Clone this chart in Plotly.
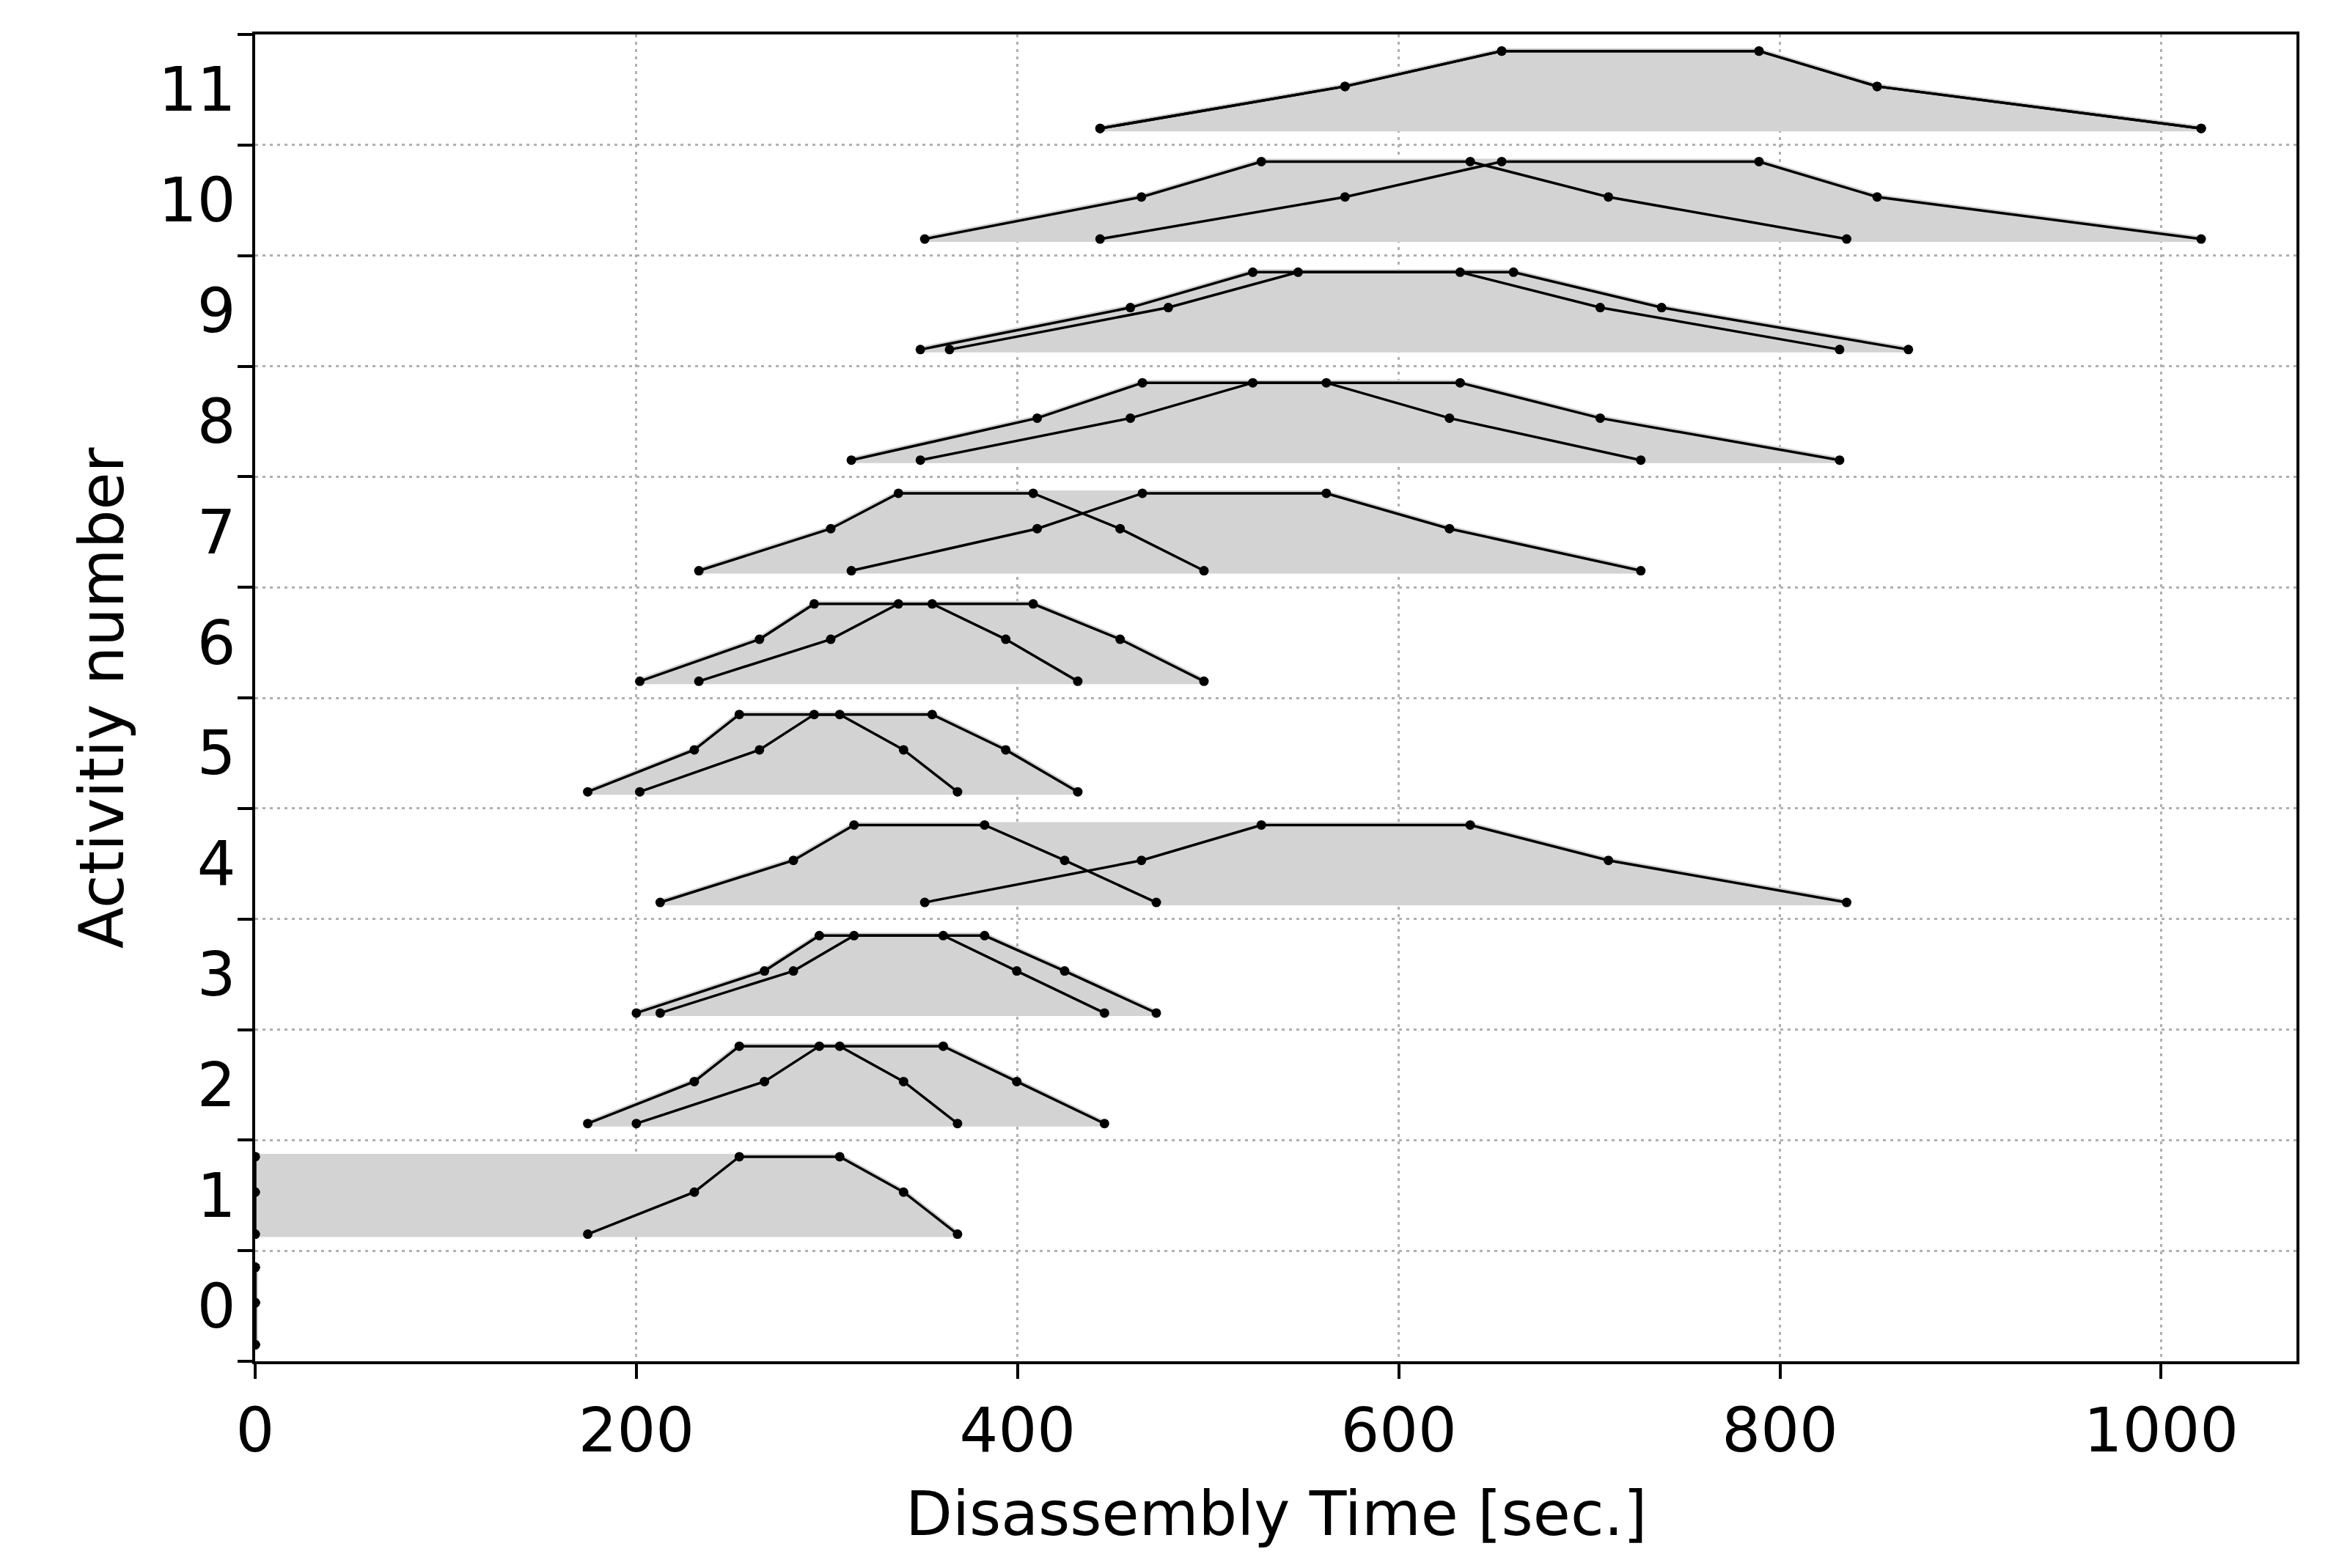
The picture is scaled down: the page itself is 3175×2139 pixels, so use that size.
import plotly.graph_objects as go

# Activities (rows) 0..11
activities = list(range(12))
tick_labels = [str(a) for a in activities]

# Fuzzy finish times (6-point trapezoids): left-bottom, left-mid, left-top, right-top, right-mid, right-bottom
fin_a  = [0, 174.5, 200.0, 212.5, 351.3, 201.8, 232.8, 312.8, 349.0, 364.3, 443.3, 443.3]
fin_am = [0, 230.4, 267.2, 282.4, 465.0, 264.6, 302.0, 410.3, 459.2, 479.1, 571.8, 571.8]
fin_b  = [0, 254.0, 296.0, 314.2, 527.9, 293.3, 337.5, 465.5, 523.4, 547.2, 654.0, 654.0]
fin_c  = [0, 306.7, 361.0, 382.7, 637.5, 355.2, 408.2, 562.0, 632.2, 660.2, 789.0, 789.0]
fin_cm = [0, 340.2, 399.6, 424.7, 710.0, 393.8, 453.8, 626.6, 705.7, 737.9, 851.0, 851.0]
fin_d  = [0, 368.5, 445.6, 472.8, 835.0, 431.6, 497.8, 727.0, 831.3, 867.4, 1021.0, 1021.0]

# Start of each activity = finish of this predecessor activity
start_from = [0, 0, 1, 2, 3, 1, 5, 6, 7, 8, 4, 10]

x_ticks = [0, 200, 400, 600, 800, 1000]

Y_LO, Y_MID, Y_HI = 0.15, 0.53, 0.85


def trap(i):
    return [fin_a[i], fin_am[i], fin_b[i], fin_c[i], fin_cm[i], fin_d[i]]


fig = go.Figure()

# grey envelopes
for k in activities:
    s = trap(start_from[k])
    f = trap(k)
    xs = [s[0], s[1], s[2], f[3], f[4], f[5], s[0]]
    ys = [k + Y_LO, k + Y_MID, k + Y_HI, k + Y_HI, k + Y_MID, k + Y_LO, k + Y_LO]
    fig.add_trace(go.Scatter(x=xs, y=ys, mode="lines", fill="toself",
                             fillcolor="#d3d3d3",
                             line=dict(color="#d3d3d3", width=8),
                             hoverinfo="skip", showlegend=False))

# trapezoid lines (start and finish)
for k in activities:
    ys = [k + Y_LO, k + Y_MID, k + Y_HI, k + Y_HI, k + Y_MID, k + Y_LO]
    for src in (start_from[k], k):
        fig.add_trace(go.Scatter(x=trap(src), y=ys, mode="lines+markers",
                                 line=dict(color="black", width=3.5),
                                 marker=dict(color="black", size=13),
                                 showlegend=False))

grid_col = "#b0b0b0"
fig.update_xaxes(range=[0, 1071], tickvals=x_ticks, ticks="outside", ticklen=20,
                 tickwidth=3.5, tickcolor="black",
                 showline=True, mirror=True, linecolor="black", linewidth=3.5,
                 showgrid=True, gridcolor=grid_col, gridwidth=3, griddash="4px,6px",
                 zeroline=False)
fig.update_yaxes(range=[0, 12], tickvals=[a + 0.5 for a in activities], ticktext=tick_labels,
                 ticks="outside", ticklen=6, tickcolor="rgba(0,0,0,0)",
                 showline=True, mirror=True, linecolor="black", linewidth=3.5,
                 showgrid=False, zeroline=False,
                 minor=dict(tickvals=list(range(13)), ticks="outside", ticklen=20,
                            tickwidth=3.5, tickcolor="black", showgrid=True,
                            gridcolor=grid_col, gridwidth=3, griddash="4px,6px"))

fig.add_annotation(text="Disassembly Time [sec.]", xref="paper", yref="paper",
                   x=0.5, y=-0.115, xanchor="center", yanchor="middle",
                   showarrow=False, font=dict(size=83))
fig.add_annotation(text="Activitiy number", xref="paper", yref="paper",
                   x=-0.075, y=0.5, xanchor="center", yanchor="middle", textangle=-90,
                   showarrow=False, font=dict(size=83))

fig.update_layout(width=3175, height=2139,
                  margin=dict(l=340, r=51, t=39, b=290),
                  plot_bgcolor="white", paper_bgcolor="white",
                  font=dict(family="DejaVu Sans", size=83, color="black"))

fig.write_html("out.html")
